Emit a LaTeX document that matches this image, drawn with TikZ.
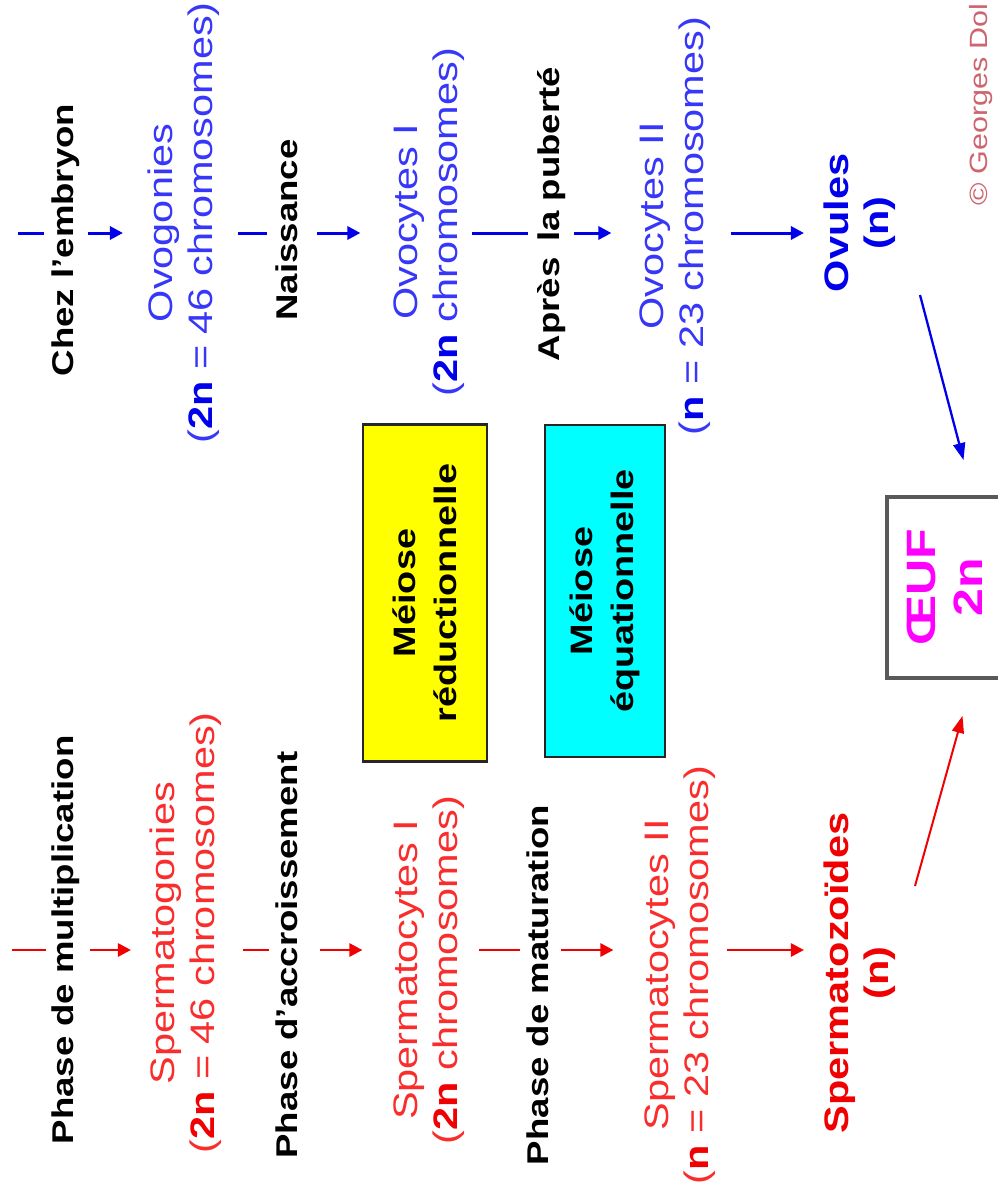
\documentclass[tikz,border=0pt]{standalone}
\usepackage{fontspec}
\setmainfont{Liberation Sans}
\usetikzlibrary{arrows.meta}

\definecolor{bline}{RGB}{0,0,235}
\definecolor{btext}{RGB}{55,55,250}
\definecolor{rline}{RGB}{240,0,0}
\definecolor{rtext}{RGB}{250,45,45}
\definecolor{meioseA}{RGB}{255,255,0}
\definecolor{meioseB}{RGB}{0,255,255}
\definecolor{oeufc}{RGB}{255,0,255}
\definecolor{copyc}{RGB}{205,100,110}

\begin{document}
\begin{tikzpicture}[x=1pt,y=-1pt,
  vtext/.style={rotate=90, xscale=1.22, inner sep=0pt, align=center},
  phase/.style={vtext, font=\bfseries\fontsize{30}{40}\selectfont},
  bcell/.style={vtext, text=btext, font=\fontsize{34}{40}\selectfont},
  rcell/.style={vtext, text=rtext, font=\fontsize{34}{40}\selectfont},
  meiose/.style={vtext, draw=black!85, line width=2.5pt,
    font=\bfseries\fontsize{31}{41}\selectfont},
  blueseg/.style={draw=bline, line width=3pt},
  bluearr/.style={blueseg, -{Triangle[length=13pt,width=13pt]}},
  redseg/.style={draw=rline, line width=2.7pt},
  redarr/.style={redseg, -{Triangle[length=13pt,width=13pt]}},
  bluediag/.style={draw=bline, line width=2.3pt, -{Triangle[length=17pt,width=12pt]}},
  reddiag/.style={draw=rline, line width=2pt, -{Triangle[length=17pt,width=12pt]}}
]
\fill[white] (0,0) rectangle (997,1196);
\useasboundingbox (0,0) rectangle (997,1196);

% levels of the two arrow chains
\coordinate (yb) at (0,233);
\coordinate (yr) at (0,950);

% female chain (blue)
\node[phase] (chez) at (66,240) {Chez l'embryon};
\node[bcell] (ovog) at (184,223) {Ovogonies\\(\textbf{\color{bline}2n} = 46 chromosomes)};
\node[phase] (naiss) at (287,230) {Naissance};
\node[bcell] (ovoc1) at (429,222) {Ovocytes I\\(\textbf{\color{bline}2n} chromosomes)};
\node[phase] (apres) at (552,214) {Après\hspace{0.15em} la puberté};
\node[bcell] (ovoc2) at (675,226) {Ovocytes II\\(\textbf{\color{bline}n} = 23 chromosomes)};
\node[bcell, text=bline, font=\bfseries\fontsize{34}{40}\selectfont] (ovules) at (860,223) {Ovules\\(n)};

% male chain (red)
\node[phase] (pmult) at (66,940) {Phase de multiplication};
\node[rcell] (spg) at (186,933) {Spermatogonies\\(\textbf{\color{rline}2n} = 46 chromosomes)};
\node[phase] (pacc) at (287,955) {Phase d'accroissement};
\node[rcell] (spc1) at (429,970) {Spermatocytes I\\(\textbf{\color{rline}2n} chromosomes)};
\node[phase] (pmat) at (538,985) {Phase de maturation};
\node[rcell] (spc2) at (680,975) {Spermatocytes II\\(\textbf{\color{rline}n} = 23 chromosomes)};
\node[rcell, text=rline, font=\bfseries\fontsize{34}{40}\selectfont] (spz) at (860,973) {Spermatozoïdes\\(n)};

% meiosis boxes
\node[meiose, fill=meioseA, minimum width=276pt, minimum height=124pt] (mred) at (425,593) {Méiose\\réductionnelle};
\node[meiose, fill=meioseB, minimum width=272pt, minimum height=120pt] (mequ) at (605,591) {Méiose\\équationnelle};

% egg
\node[vtext, draw=black!65, line width=3.5pt, text=oeufc,
  font=\bfseries\fontsize{41}{47}\selectfont,
  minimum width=148pt, minimum height=115pt] (oeuf) at (944.5,587.5) {ŒUF\\2n};

% credit line
\node[vtext, anchor=east, text=copyc, font=\fontsize{25}{30}\selectfont] (credit) at (981,3) {© Georges Dol};

% blue arrows
\coordinate (bt1) at (18,233);
\draw[blueseg, shorten >=8pt] (bt1) -- (chez.north |- yb);
\draw[bluearr, shorten <=8pt, shorten >=25pt] (chez.south |- yb) -- (ovog.north |- yb);
\draw[blueseg, shorten <=18pt, shorten >=9pt] (ovog.south |- yb) -- (naiss.north |- yb);
\draw[bluearr, shorten <=19pt, shorten >=33pt] (naiss.south |- yb) -- (ovoc1.north |- yb);
\draw[blueseg, shorten <=7pt, shorten >=10pt] (ovoc1.south |- yb) -- (apres.north |- yb);
\draw[bluearr, shorten <=8pt, shorten >=28pt] (apres.south |- yb) -- (ovoc2.north |- yb);
\draw[bluearr, shorten <=20pt, shorten >=20pt] (ovoc2.south |- yb) -- (ovules.north |- yb);

% red arrows
\coordinate (rt1) at (12,950);
\draw[redseg, shorten >=6pt] (rt1) -- (pmult.north |- yr);
\draw[redarr, shorten <=10pt, shorten >=19pt] (pmult.south |- yr) -- (spg.north |- yr);
\draw[redseg, shorten <=21pt, shorten >=7pt] (spg.south |- yr) -- (pacc.north |- yr);
\draw[redarr, shorten <=22pt, shorten >=31pt] (pacc.south |- yr) -- (spc1.north |- yr);
\draw[redseg, shorten <=14pt, shorten >=7pt] (spc1.south |- yr) -- (pmat.north |- yr);
\draw[redarr, shorten <=12pt, shorten >=31pt] (pmat.south |- yr) -- (spc2.north |- yr);
\draw[redarr, shorten <=11pt, shorten >=20pt] (spc2.south |- yr) -- (spz.north |- yr);

% fertilisation arrows
\coordinate (btail) at (920,295);
\coordinate (rtail) at (915,886);
\draw[bluediag] (btail) -- ([xshift=19pt,yshift=35pt]oeuf.east);
\draw[reddiag] (rtail) -- ([xshift=18pt,yshift=-36pt]oeuf.west);
\end{tikzpicture}
\end{document}
